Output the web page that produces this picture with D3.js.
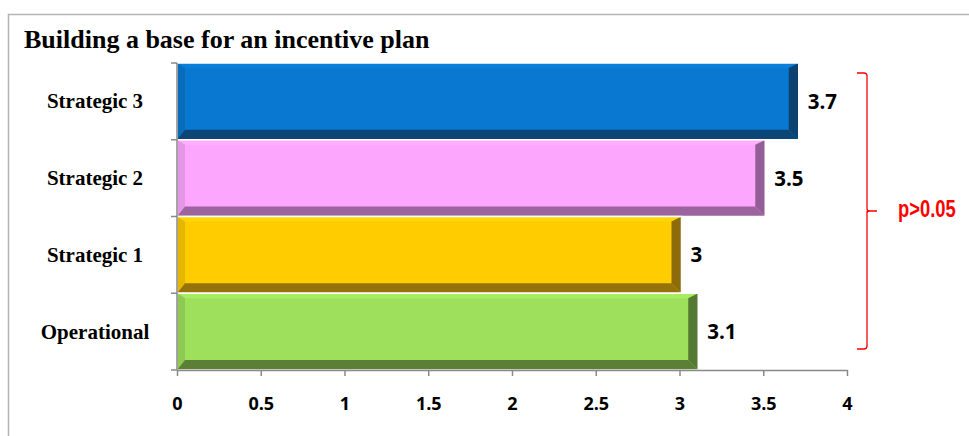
<!DOCTYPE html>
<html>
<head>
<meta charset="utf-8">
<script src="https://cdn.jsdelivr.net/npm/d3@7"></script>
<style>
  html, body { margin: 0; padding: 0; background: #fff; }
  svg { display: block; }
</style>
</head>
<body>
<svg id="chart" width="969" height="436"></svg>
<script>
// Mean scores per incentive-plan group
const categories = ["Strategic 3", "Strategic 2", "Strategic 1", "Operational"];
const values = [3.7, 3.5, 3, 3.1];
const valueLabels = ["3.7", "3.5", "3", "3.1"];
const faceColors = ["#0878d0", "#fda6fd", "#ffcc00", "#9ee05c"];
const shadeColors = ["#0b426f", "#935e97", "#8c6b0a", "#557832"];
const xTicks = [0, 0.5, 1, 1.5, 2, 2.5, 3, 3.5, 4];
const xTickLabels = ["0", "0.5", "1", "1.5", "2", "2.5", "3", "3.5", "4"];
const titleText = "Building a base for an incentive plan";
const noteText = "p>0.05";

const svg = d3.select("#chart");

// outer frame
svg.append("path")
  .attr("d", "M8.5,436 L8.5,14.5 L969,14.5")
  .attr("fill", "none")
  .attr("stroke", "#b4b4b4")
  .attr("stroke-width", 1.5);

svg.append("text")
  .attr("x", 24).attr("y", 48)
  .attr("font-family", "'Liberation Serif', 'Times New Roman', serif")
  .attr("font-weight", "bold")
  .attr("font-size", 26)
  .attr("fill", "#000")
  .text(titleText);

const x = d3.scaleLinear().domain([0, 4]).range([177, 847]);
const y = d3.scaleBand().domain(categories).range([63, 370]).padding(0);

// bevelled bars
const bl = 8, br = 10, bt = 5, bb = 10;
const bars = svg.append("g").selectAll("g")
  .data(categories.map((c, i) => ({ c, v: values[i], face: faceColors[i], shade: shadeColors[i], label: valueLabels[i] })))
  .join("g");

bars.each(function (d) {
  const g = d3.select(this);
  const x0 = x(0), x1 = x(d.v) + 2, y0 = y(d.c), y1 = y(d.c) + y.bandwidth();
  const face = d3.color(d.face);
  const pts = a => a.map(p => p.join(",")).join(" ");
  g.append("rect")
    .attr("x", x0).attr("y", y0)
    .attr("width", x1 - x0).attr("height", y1 - y0)
    .attr("fill", d.face);
  // top rim (light)
  g.append("polygon")
    .attr("points", pts([[x0, y0], [x1, y0], [x1 - br, y0 + bt], [x0 + bl, y0 + bt]]))
    .attr("fill", face.brighter(0.15));
  // left rim (slightly dark)
  g.append("polygon")
    .attr("points", pts([[x0, y0], [x0 + bl, y0 + bt], [x0 + bl, y1 - bb], [x0, y1]]))
    .attr("fill", d3.interpolateRgb(d.face, d.shade)(0.22));
  // right rim
  g.append("polygon")
    .attr("points", pts([[x1, y0], [x1, y1], [x1 - br, y1 - bb], [x1 - br, y0 + bt]]))
    .attr("fill", d.shade);
  // bottom rim
  g.append("polygon")
    .attr("points", pts([[x0, y1], [x1, y1], [x1 - br, y1 - bb], [x0 + bl, y1 - bb]]))
    .attr("fill", d3.interpolateRgb(d.shade, d.face)(0.08));
  g.append("rect")
    .attr("x", x0).attr("y", y0)
    .attr("width", x1 - x0).attr("height", y1 - y0)
    .attr("fill", "none")
    .attr("stroke", "#fff")
    .attr("stroke-width", 1.5);

  g.append("text")
    .attr("x", x(d.v) + 11)
    .attr("y", y(d.c) + y.bandwidth() / 2)
    .attr("dy", "0.36em")
    .attr("font-family", "'Open Sans', 'DejaVu Sans', sans-serif")
    .attr("font-weight", "bold")
    .attr("font-size", 20.5)
    .attr("fill", "#000")
    .text(d.label);
});

// axes
const axisColor = "#898989";
const xAxis = svg.append("g")
  .attr("transform", `translate(0,${y.range()[1]})`)
  .call(d3.axisBottom(x).tickValues(xTicks).tickSizeInner(6).tickSizeOuter(0)
    .tickFormat((d, i) => xTickLabels[i]));
xAxis.select(".domain").attr("stroke", axisColor).attr("stroke-width", 1.5);
xAxis.selectAll(".tick line").attr("stroke", axisColor).attr("stroke-width", 1.5);
xAxis.selectAll(".tick text")
  .attr("y", 40)
  .attr("dy", null)
  .attr("font-family", "'Open Sans', 'DejaVu Sans', sans-serif")
  .attr("font-weight", "bold")
  .attr("font-size", 18)
  .attr("fill", "#000");

const yAxis = svg.append("g").attr("transform", `translate(${x(0)},0)`);
yAxis.append("line")
  .attr("x1", 0).attr("x2", 0)
  .attr("y1", y.range()[0]).attr("y2", y.range()[1])
  .attr("stroke", axisColor).attr("stroke-width", 1.5);
const bounds = categories.map(c => y(c)).concat([y.range()[1]]);
yAxis.selectAll("line.bt").data(bounds).join("line")
  .attr("class", "bt")
  .attr("x1", -6).attr("x2", 0)
  .attr("y1", d => d).attr("y2", d => d)
  .attr("stroke", axisColor).attr("stroke-width", 1.5);
yAxis.selectAll("text").data(categories).join("text")
  .attr("x", 95 - x(0))
  .attr("y", d => y(d) + y.bandwidth() / 2)
  .attr("dy", "0.33em")
  .attr("text-anchor", "middle")
  .attr("font-family", "'Liberation Serif', 'Times New Roman', serif")
  .attr("font-weight", "bold")
  .attr("font-size", 21)
  .attr("fill", "#000")
  .text(d => d);

// significance bracket
const bTop = y(categories[0]) + 10;
const bBot = y(categories[3]) + y.bandwidth() - 21;
const bMid = (bTop + bBot) / 2;
const bx = 867;
svg.append("path")
  .attr("d", `M${bx - 10},${bTop} L${bx - 3},${bTop} Q${bx},${bTop} ${bx},${bTop + 3}
              L${bx},${bMid - 2} Q${bx},${bMid} ${bx + 3},${bMid} L${bx + 10},${bMid}
              M${bx},${bMid + 2} Q${bx},${bMid} ${bx + 3},${bMid}
              M${bx},${bMid} L${bx},${bBot - 3} Q${bx},${bBot} ${bx - 3},${bBot} L${bx - 10},${bBot}`)
  .attr("fill", "none")
  .attr("stroke", "#ff0000")
  .attr("stroke-width", 1.3);

// condensed label: regular sans squeezed horizontally
svg.append("text")
  .attr("transform", `translate(898,${bMid + 6}) scale(0.8,1)`)
  .attr("font-family", "'Liberation Sans', Arial, sans-serif")
  .attr("font-weight", "bold")
  .attr("font-size", 23)
  .attr("fill", "#ff0000")
  .text(noteText);
</script>
</body>
</html>
